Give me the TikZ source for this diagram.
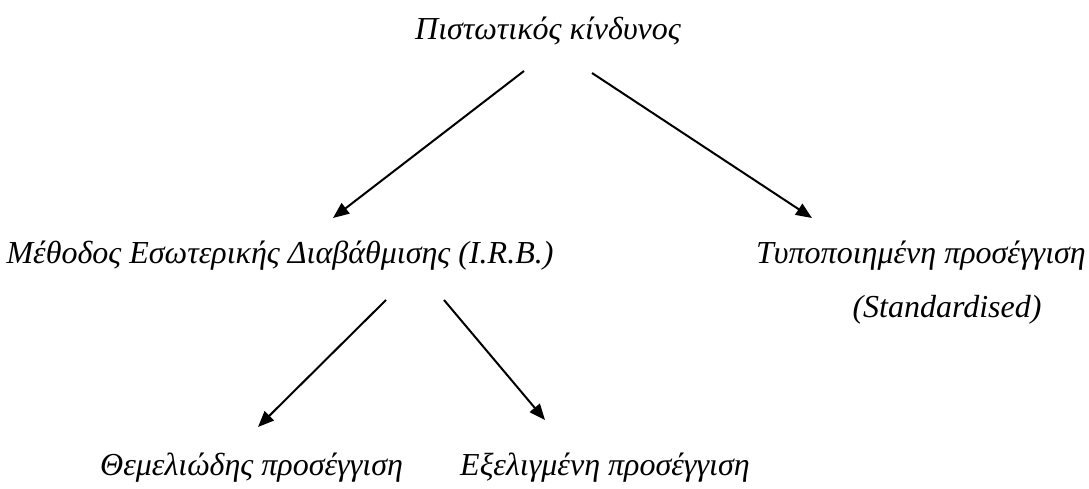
\documentclass[tikz,border=0pt]{standalone}
\usepackage{fontspec}
\setmainfont{Liberation Serif}
\usetikzlibrary{arrows.meta}

\tikzset{
  lbl/.style={font=\fontsize{32}{38}\selectfont\itshape, inner sep=0pt, anchor=base},
  arr/.style={line width=2pt, -{Triangle[length=16pt,width=13pt]}}
}

\begin{document}
\begin{tikzpicture}[x=1pt, y=-1pt]
  \useasboundingbox (0,0) rectangle (1089,489);
  % labels
  \node[lbl] (risk) at (548,40) {Πιστωτικός κίνδυνος};
  \node[lbl] (irb) at (280,263) {Μέθοδος Εσωτερικής Διαβάθμισης (I.R.B.)};
  \node[lbl] (std) at (921,263) {Τυποποιημένη προσέγγιση};
  \node[lbl] (stden) at (947,317) {(Standardised)};
  \node[lbl, anchor=base west] (found) at (100,475) {Θεμελιώδης προσέγγιση};
  \node[lbl, anchor=base west] (adv) at (460,475) {Εξελιγμένη προσέγγιση};
  % connector ends
  \coordinate (r1) at (524,71);
  \coordinate (r2) at (592,73);
  \coordinate (i1) at (386,300);
  \coordinate (i2) at (444,300);
  \coordinate (irbtop) at (333,218);
  \coordinate (stdtop) at (812,218);
  \coordinate (foundtop) at (258,427);
  \coordinate (advtop) at (545,420);
  \draw[arr] (r1) -- (irbtop);
  \draw[arr] (r2) -- (stdtop);
  \draw[arr] (i1) -- (foundtop);
  \draw[arr] (i2) -- (advtop);
\end{tikzpicture}
\end{document}
